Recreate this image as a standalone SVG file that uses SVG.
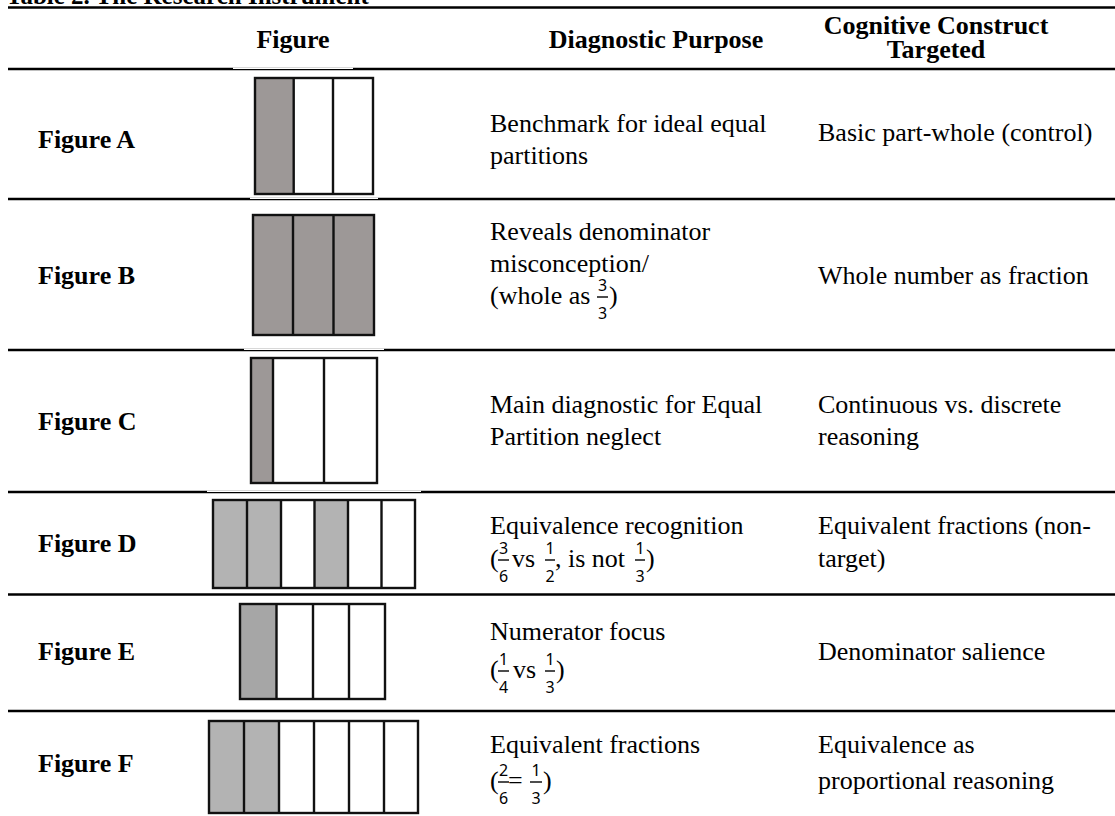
<svg xmlns="http://www.w3.org/2000/svg" width="1115" height="816" viewBox="0 0 1115 816">
<style>
.h{font-family:"Liberation Serif","Times New Roman",serif;font-weight:bold;font-size:26px;fill:#000}
.t{font-family:"Liberation Serif","Times New Roman",serif;font-size:26px;fill:#000}
.f{font-family:"Noto Sans","DejaVu Sans",sans-serif;font-size:16px;fill:#000;text-anchor:middle}
.m{text-anchor:middle}
.rule{stroke:#000;stroke-width:2.6}
.box{stroke:#111;stroke-width:2.4}
.g1{fill:#9d9897}
.g2{fill:#b3b3b3}
.g3{fill:#a6a6a6}
.w{fill:#fff}
.bar{stroke:#000;stroke-width:1.4}
</style>
<rect width="1115" height="816" fill="#fff"/>
<text class="h" x="6" y="4" style="font-size:25px">Table 2. The Research Instrument</text>
<g id="rules">
<line class="rule" x1="8" y1="7.5" x2="1115" y2="7.5"/>
<line class="rule" x1="8" y1="69" x2="1115" y2="69"/>
<line class="rule" x1="8" y1="199" x2="1115" y2="199"/>
<line class="rule" x1="8" y1="350" x2="1115" y2="350"/>
<line class="rule" x1="8" y1="492" x2="1115" y2="492"/>
<line class="rule" x1="8" y1="594.5" x2="1115" y2="594.5"/>
<line class="rule" x1="8" y1="711" x2="1115" y2="711"/>
<rect class="w" x="233" y="67.6" width="120" height="1.4"/>
<rect class="w" x="250" y="197.6" width="128" height="1.4"/>
<rect class="w" x="244" y="348.6" width="140" height="1.4"/>
<rect class="w" x="207" y="490.6" width="214" height="1.4"/>
</g>
<g id="header">
<text class="h m" x="293" y="48">Figure</text>
<text class="h m" x="656" y="48">Diagnostic Purpose</text>
<text class="h m" x="936" y="34">Cognitive Construct</text>
<text class="h m" x="936" y="58">Targeted</text>
</g>
<g id="rowA">
<text class="h" x="38" y="148">Figure A</text>
<rect class="g1" x="255" y="78" width="38.7" height="116"/>
<rect class="box" x="255" y="78" width="118" height="116" fill="none"/>
<line class="box" x1="293.7" y1="78" x2="293.7" y2="194"/>
<line class="box" x1="333" y1="78" x2="333" y2="194"/>
<text class="t" x="490" y="132">Benchmark for ideal equal</text>
<text class="t" x="490" y="164">partitions</text>
<text class="t" x="818" y="141">Basic part-whole (control)</text>
</g>
<g id="rowB">
<text class="h" x="38" y="284">Figure B</text>
<rect class="g1 box" x="253" y="215" width="121" height="120"/>
<line class="box" x1="293" y1="215" x2="293" y2="335"/>
<line class="box" x1="333.5" y1="215" x2="333.5" y2="335"/>
<text class="t" x="490" y="240">Reveals denominator</text>
<text class="t" x="490" y="272">misconception/</text>
<text class="t" x="490" y="304">(whole as</text>
<text class="f" x="602.5" y="291">3</text>
<line class="bar" x1="597" y1="297" x2="608" y2="297"/>
<text class="f" x="602.5" y="319">3</text>
<text class="t" x="609" y="304">)</text>
<text class="t" x="818" y="284">Whole number as fraction</text>
</g>
<g id="rowC">
<text class="h" x="38" y="430">Figure C</text>
<rect class="g1" x="251" y="358" width="22" height="125"/>
<rect class="box" x="251" y="358" width="126" height="125" fill="none"/>
<line class="box" x1="273" y1="358" x2="273" y2="483"/>
<line class="box" x1="324" y1="358" x2="324" y2="483"/>
<text class="t" x="490" y="413">Main diagnostic for Equal</text>
<text class="t" x="490" y="445">Partition neglect</text>
<text class="t" x="818" y="413">Continuous vs. discrete</text>
<text class="t" x="818" y="445">reasoning</text>
</g>
<g id="rowD">
<text class="h" x="38" y="552">Figure D</text>
<rect class="g2" x="213" y="500" width="68" height="88"/>
<rect class="g2" x="314" y="500" width="34" height="88"/>
<rect class="box" x="213" y="500" width="202" height="88" fill="none"/>
<line class="box" x1="247" y1="500" x2="247" y2="588"/>
<line class="box" x1="281" y1="500" x2="281" y2="588"/>
<line class="box" x1="314.5" y1="500" x2="314.5" y2="588"/>
<line class="box" x1="348" y1="500" x2="348" y2="588"/>
<line class="box" x1="381.5" y1="500" x2="381.5" y2="588"/>
<text class="t" x="490" y="534">Equivalence recognition</text>
<text class="t" x="490" y="567">(</text>
<text class="f" x="503.5" y="554">3</text>
<line class="bar" x1="498" y1="560" x2="509" y2="560"/>
<text class="f" x="503.5" y="582">6</text>
<text class="t" x="512" y="567">vs</text>
<text class="f" x="550" y="554">1</text>
<line class="bar" x1="545" y1="560" x2="555" y2="560"/>
<text class="f" x="550" y="582">2</text>
<text class="t" x="555" y="567">, is not</text>
<text class="f" x="640" y="554">1</text>
<line class="bar" x1="635" y1="560" x2="645" y2="560"/>
<text class="f" x="640" y="582">3</text>
<text class="t" x="646" y="567">)</text>
<text class="t" x="818" y="534">Equivalent fractions (non-</text>
<text class="t" x="818" y="567">target)</text>
</g>
<g id="rowE">
<text class="h" x="38" y="660">Figure E</text>
<rect class="g3" x="240" y="604" width="36.5" height="95"/>
<rect class="box" x="240" y="604" width="145" height="95" fill="none"/>
<line class="box" x1="276.5" y1="604" x2="276.5" y2="699"/>
<line class="box" x1="313" y1="604" x2="313" y2="699"/>
<line class="box" x1="349" y1="604" x2="349" y2="699"/>
<text class="t" x="490" y="640">Numerator focus</text>
<text class="t" x="490" y="678">(</text>
<text class="f" x="503.5" y="665">1</text>
<line class="bar" x1="498" y1="671" x2="509" y2="671"/>
<text class="f" x="503.5" y="693">4</text>
<text class="t" x="513" y="678">vs</text>
<text class="f" x="550" y="665">1</text>
<line class="bar" x1="545" y1="671" x2="555" y2="671"/>
<text class="f" x="550" y="693">3</text>
<text class="t" x="556" y="678">)</text>
<text class="t" x="818" y="660">Denominator salience</text>
</g>
<g id="rowF">
<text class="h" x="38" y="772">Figure F</text>
<rect class="g2" x="209" y="721" width="70" height="92"/>
<rect class="box" x="209" y="721" width="209" height="92" fill="none"/>
<line class="box" x1="244" y1="721" x2="244" y2="813"/>
<line class="box" x1="279" y1="721" x2="279" y2="813"/>
<line class="box" x1="314" y1="721" x2="314" y2="813"/>
<line class="box" x1="349" y1="721" x2="349" y2="813"/>
<line class="box" x1="384" y1="721" x2="384" y2="813"/>
<text class="t" x="490" y="753">Equivalent fractions</text>
<text class="t" x="490" y="789">(</text>
<text class="f" x="503.5" y="776">2</text>
<line class="bar" x1="498" y1="782" x2="509" y2="782"/>
<text class="f" x="503.5" y="804">6</text>
<text class="t" x="508" y="789">=</text>
<text class="f" x="536" y="776">1</text>
<line class="bar" x1="530" y1="782" x2="542" y2="782"/>
<text class="f" x="536" y="804">3</text>
<text class="t" x="543" y="789">)</text>
<text class="t" x="818" y="753">Equivalence as</text>
<text class="t" x="818" y="789">proportional reasoning</text>
</g>
</svg>
